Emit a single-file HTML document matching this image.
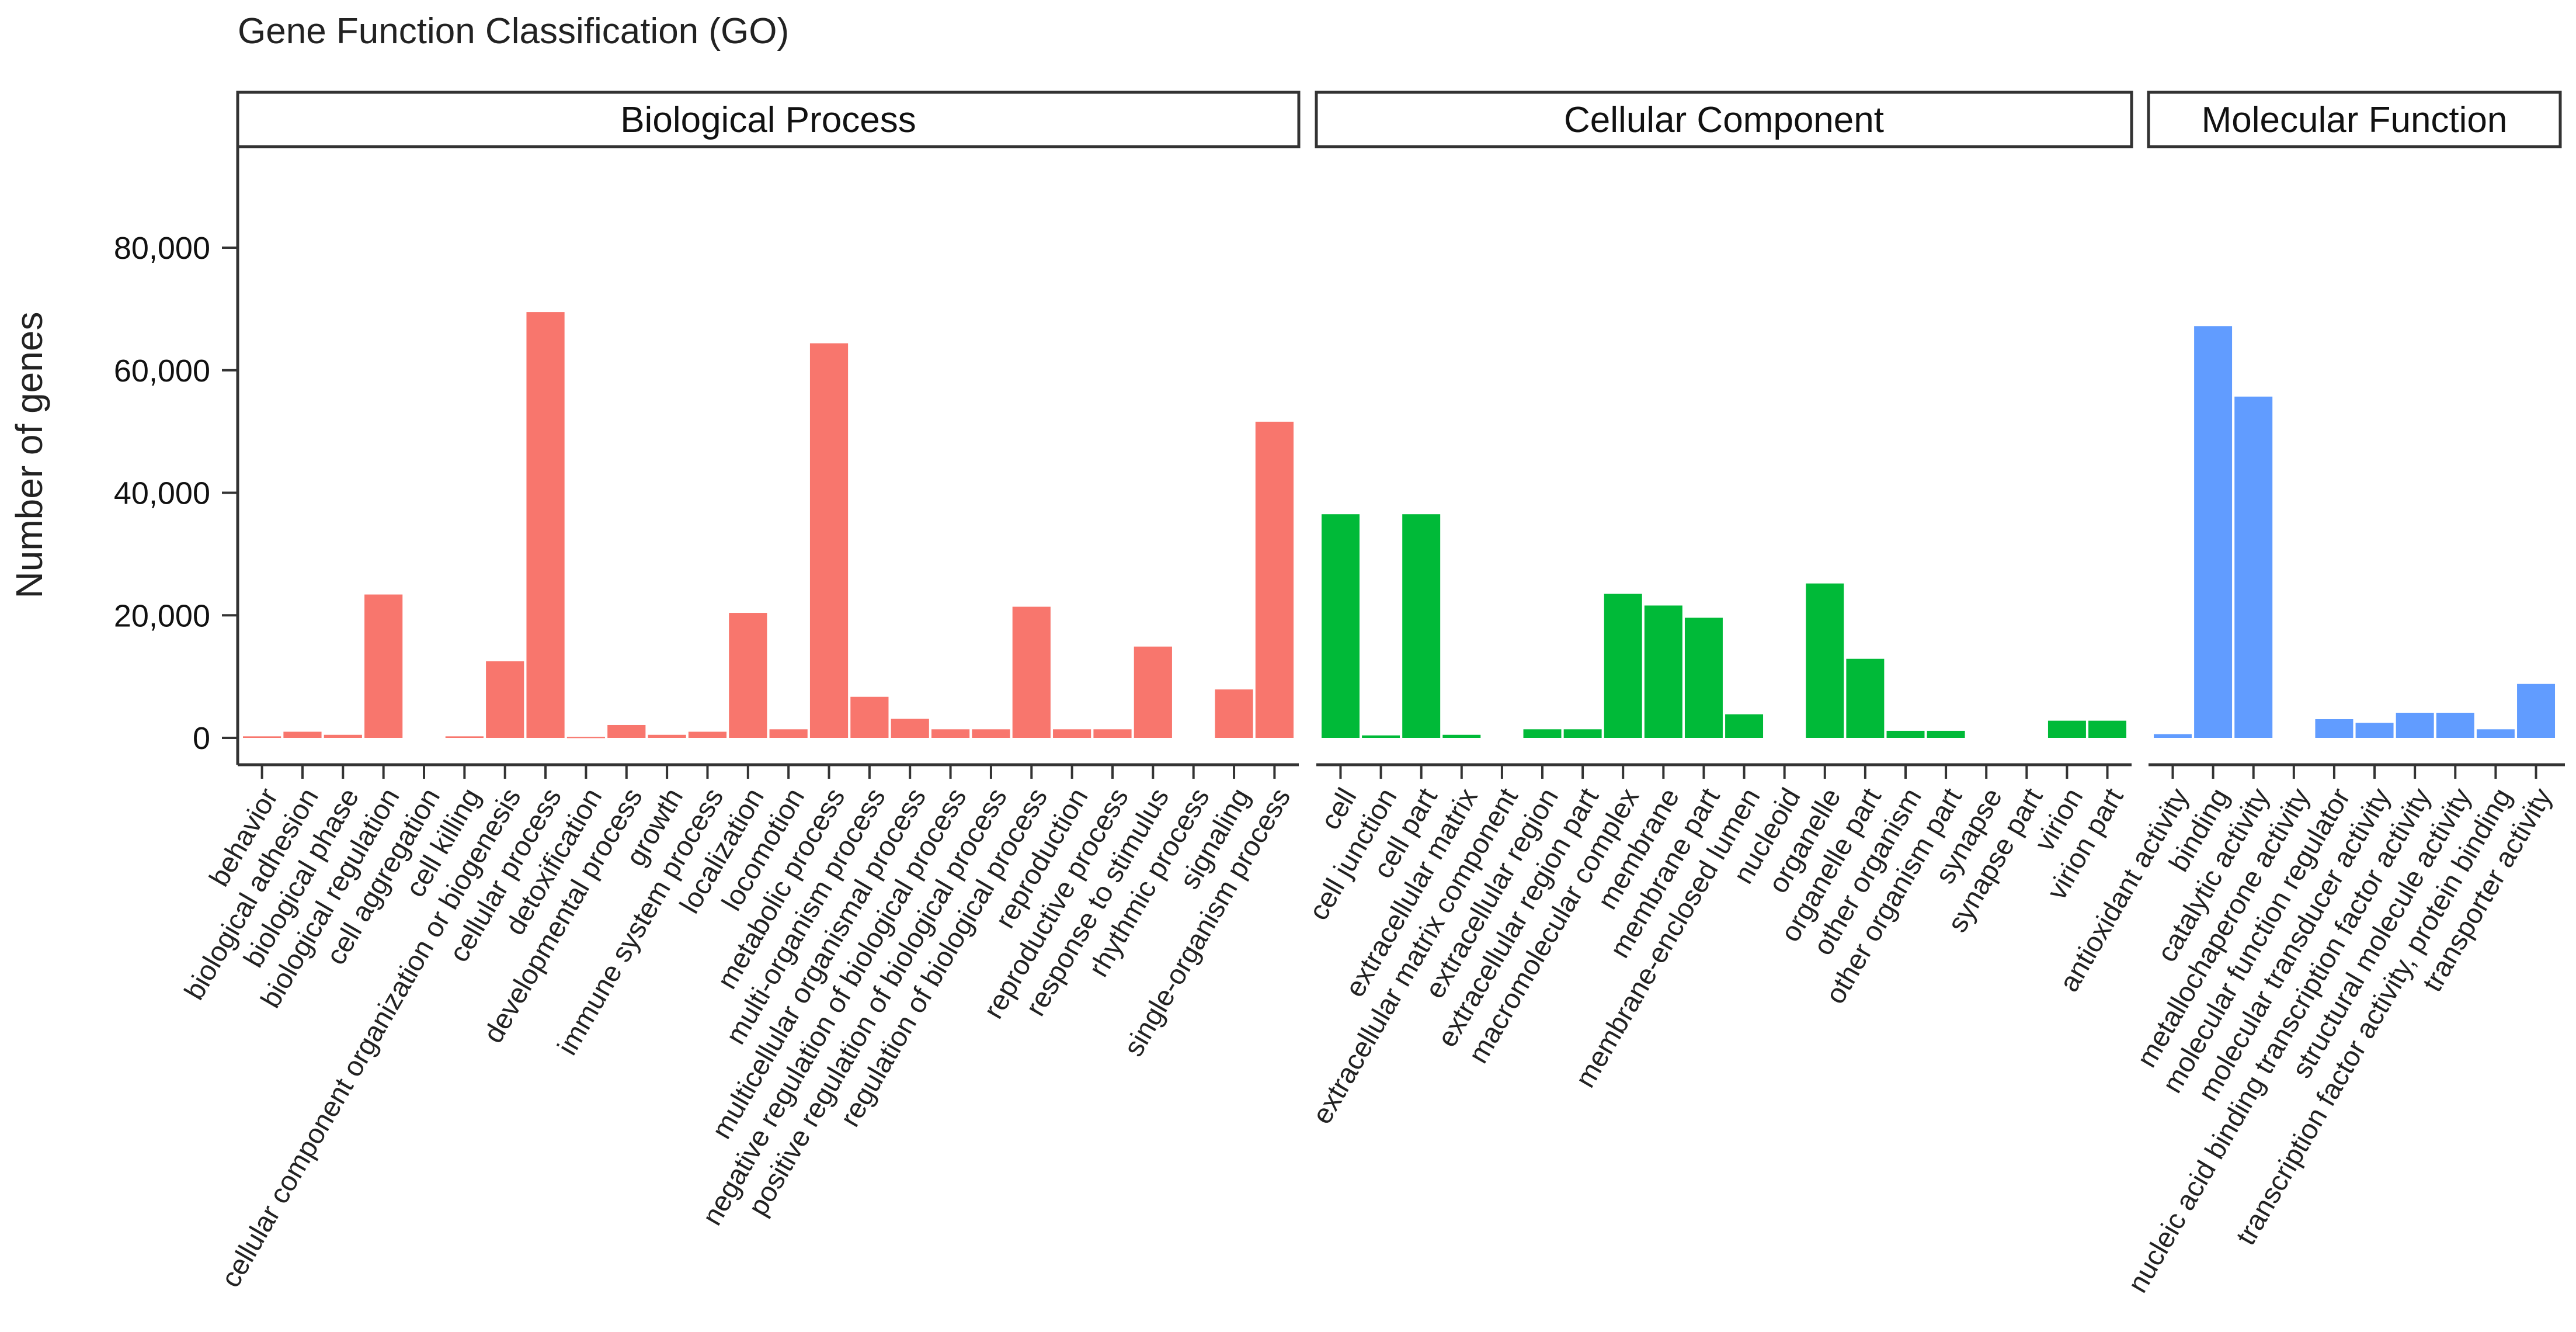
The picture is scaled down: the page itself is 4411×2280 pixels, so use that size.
<!DOCTYPE html>
<html><head><meta charset="utf-8"><style>
html,body{margin:0;padding:0;background:#fff;}
svg{display:block;font-family:"Liberation Sans",Arial,sans-serif;}
</style></head><body>
<svg id="chart" width="4411" height="2280" viewBox="0 0 4411 2280" xmlns="http://www.w3.org/2000/svg">
<rect x="0" y="0" width="4411" height="2280" fill="#fff"/>
<text x="407" y="74" font-size="62" fill="#222">Gene Function Classification (GO)</text>
<text transform="translate(72,779) rotate(-90)" text-anchor="middle" font-size="64" fill="#222">Number of genes</text>
<g id="plot"></g>
</svg>
<script>
const bpCategories = ["behavior","biological adhesion","biological phase","biological regulation","cell aggregation","cell killing","cellular component organization or biogenesis","cellular process","detoxification","developmental process","growth","immune system process","localization","locomotion","metabolic process","multi-organism process","multicellular organismal process","negative regulation of biological process","positive regulation of biological process","regulation of biological process","reproduction","reproductive process","response to stimulus","rhythmic process","signaling","single-organism process"];
const bpValues = [250,1000,500,23400,0,250,12500,69500,150,2100,500,1000,20400,1400,64400,6700,3100,1400,1400,21400,1400,1400,14900,0,7900,51600];
const ccCategories = ["cell","cell junction","cell part","extracellular matrix","extracellular matrix component","extracellular region","extracellular region part","macromolecular complex","membrane","membrane part","membrane-enclosed lumen","nucleoid","organelle","organelle part","other organism","other organism part","synapse","synapse part","virion","virion part"];
const ccValues = [36500,400,36500,500,0,1400,1400,23500,21600,19600,3850,0,25200,12900,1150,1150,0,0,2800,2800];
const mfCategories = ["antioxidant activity","binding","catalytic activity","metallochaperone activity","molecular function regulator","molecular transducer activity","nucleic acid binding transcription factor activity","structural molecule activity","transcription factor activity, protein binding","transporter activity"];
const mfValues = [600,67200,55700,0,3050,2450,4100,4100,1400,8800];
const yTicks = [0,20000,40000,60000,80000];
const yTickLabels = ["0","20,000","40,000","60,000","80,000"];
const panelNames = ["Biological Process","Cellular Component","Molecular Function"];

const NS = "http://www.w3.org/2000/svg";
const g = document.getElementById("plot");
function mk(tag, attrs, parent){const e=document.createElementNS(NS,tag);for(const k in attrs)e.setAttribute(k,attrs[k]);(parent||g).appendChild(e);return e;}
const y0 = 1263, pxPer = 209.75/20000;
function yScale(v){return y0 - v*pxPer;}
const panels = [
  {x0:407,x1:2224,cats:bpCategories,vals:bpValues,color:"#F8766D",key:"bp"},
  {x0:2254,x1:3650,cats:ccCategories,vals:ccValues,color:"#00BA38",key:"cc"},
  {x0:3679,x1:4384,cats:mfCategories,vals:mfValues,color:"#619CFF",key:"mf"}
];
const axisY = 1309;
panels.forEach((p,pi)=>{
  const n = p.cats.length;
  const slot = (p.x1-p.x0)/(n+0.2);
  function xScale(i){return p.x0 + slot*(0.6+i);}
  const strip = mk("rect",{x:p.x0,y:158,width:p.x1-p.x0,height:93,fill:"#fff",stroke:"#333","stroke-width":5});
  
  
  const st = mk("text",{x:(p.x0+p.x1)/2,y:226,"text-anchor":"middle","font-size":62,fill:"#111"});
  st.textContent = panelNames[pi];
  
  
  for(let i=0;i<n;i++){
    const v=p.vals[i];
    if(v<=0) continue;
    const bw = slot*0.94;
    const r = mk("rect",{x:xScale(i)-bw/2,y:yScale(v),width:bw,height:Math.max(y0-yScale(v),2),fill:p.color});
    
    
  }
  const ax = mk("line",{x1:p.x0,x2:p.x1+(pi===2?8:0),y1:axisY,y2:axisY,stroke:"#333","stroke-width":5});
  
  
  for(let i=0;i<n;i++){
    const x=xScale(i);
    const t = mk("line",{x1:x,x2:x,y1:axisY,y2:axisY+24,stroke:"#333","stroke-width":4});
    
    
    const lb = mk("text",{transform:"translate("+(x+14)+","+(axisY+44)+") rotate(-60)","text-anchor":"end","font-size":48,fill:"#222",dy:"0.35em"});
    lb.textContent = p.cats[i];
    
    
  }
});
const yax = mk("line",{x1:407,x2:407,y1:251,y2:axisY,stroke:"#333","stroke-width":5});


yTicks.forEach((v,i)=>{
  const y=yScale(v);
  const t = mk("line",{x1:380,x2:407,y1:y,y2:y,stroke:"#333","stroke-width":4});
  
  
  const lb = mk("text",{x:360,y:y+19,"text-anchor":"end","font-size":54,fill:"#111"});
  lb.textContent = yTickLabels[i];
  
  
});
</script>
</body></html>
